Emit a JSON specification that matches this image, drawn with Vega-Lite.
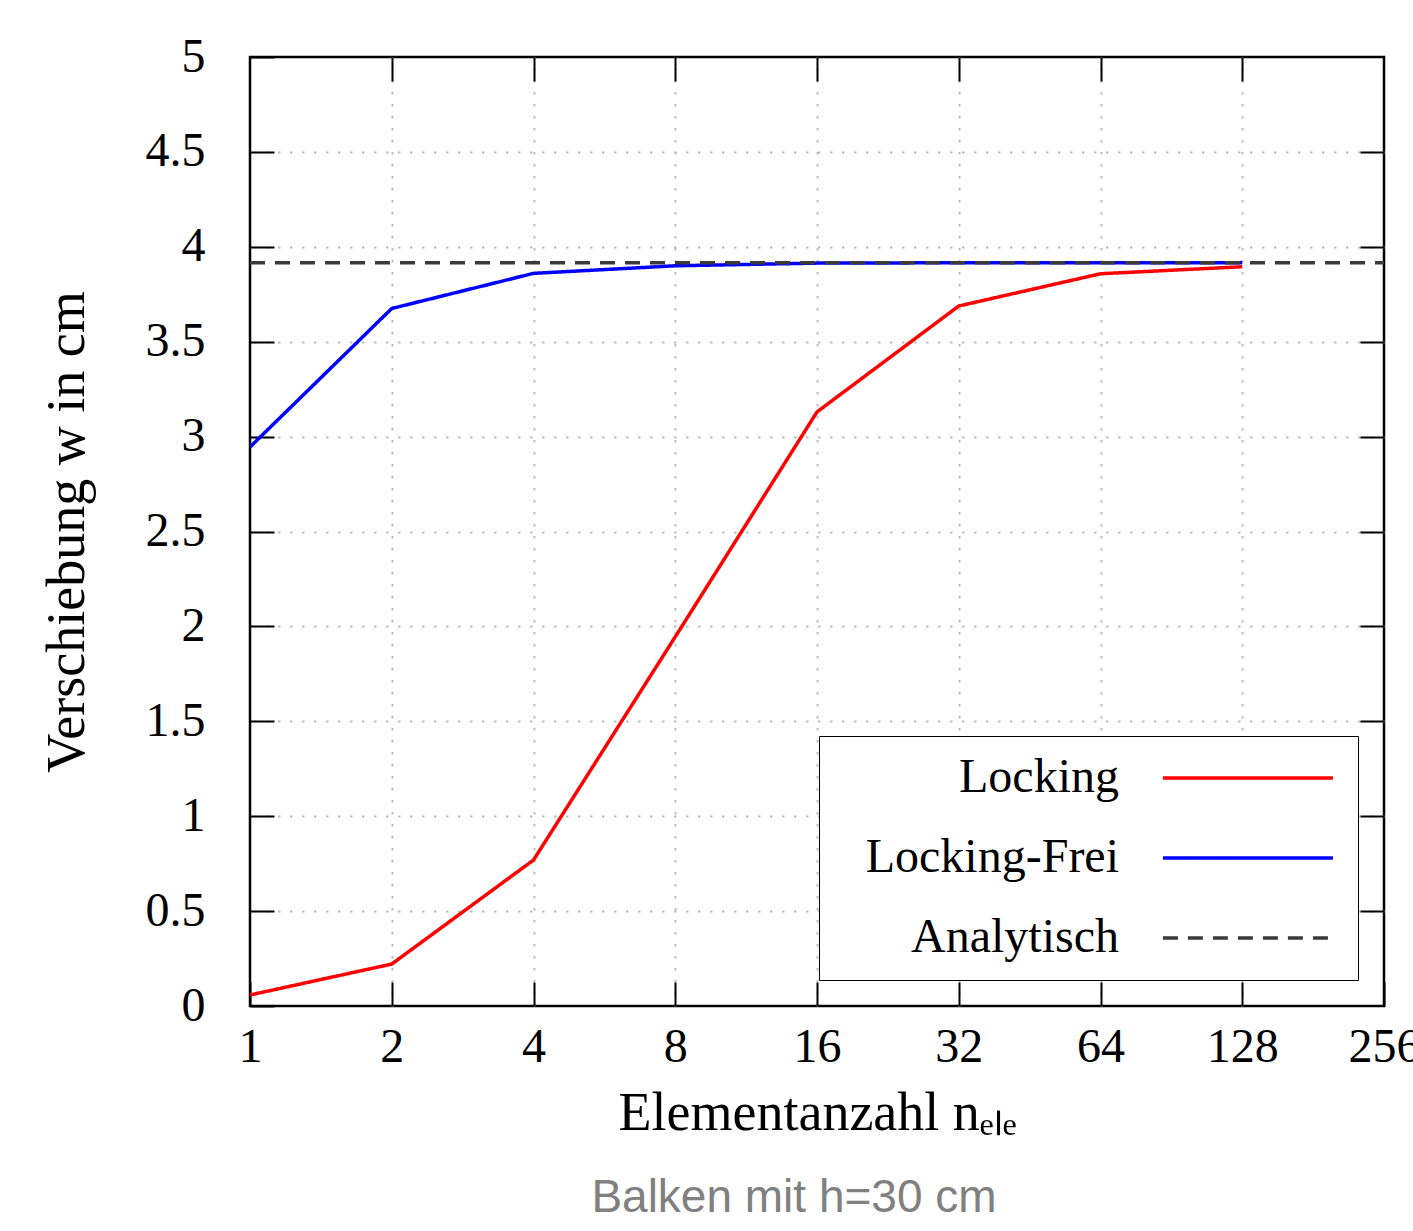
{
  "$schema": "https://vega.github.io/schema/vega-lite/v6.json",
  "width": 1134,
  "height": 949,
  "autosize": {"type": "none"},
  "padding": {"left": 250, "top": 57, "right": 29, "bottom": 225},
  "background": "white",
  "title": {
    "text": "Balken mit h=30 cm",
    "orient": "bottom",
    "anchor": "middle",
    "dx": -23,
    "offset": 36,
    "font": "Liberation Sans",
    "fontSize": 46,
    "fontWeight": "normal",
    "color": "#808080"
  },
  "config": {
    "view": {"stroke": "#000000", "strokeWidth": 2.5},
    "font": "Liberation Serif",
    "axis": {
      "domain": false,
      "tickColor": "#000000",
      "tickWidth": 2,
      "tickSize": -24,
      "labelFont": "Liberation Serif",
      "labelFontSize": 48,
      "labelColor": "#000000",
      "titleFont": "Liberation Serif",
      "titleFontSize": 54,
      "titleFontWeight": "normal",
      "titleColor": "#000000",
      "gridColor": "#bdbdbd",
      "gridWidth": 2,
      "gridDash": [2.5, 9.5],
      "gridOpacity": 1
    },
    "legend": {
      "title": null,
      "orient": "bottom-right",
      "offset": 26,
      "padding": 18,
      "strokeColor": "#000000",
      "fillColor": "#ffffff",
      "cornerRadius": 0,
      "labelFont": "Liberation Serif",
      "labelFontSize": 48,
      "labelColor": "#000000",
      "labelAlign": "right",
      "labelOffset": 234,
      "labelLimit": 400,
      "symbolType": "M17.76,0H27.76",
      "symbolSize": 1156,
      "symbolStrokeWidth": 3.5,
      "rowPadding": 32
    }
  },
  "data": {
    "values": [
      {"n": 1, "w": 0.058, "series": "Locking"},
      {"n": 2, "w": 0.221, "series": "Locking"},
      {"n": 4, "w": 0.769, "series": "Locking"},
      {"n": 8, "w": 1.945, "series": "Locking"},
      {"n": 16, "w": 3.13, "series": "Locking"},
      {"n": 32, "w": 3.688, "series": "Locking"},
      {"n": 64, "w": 3.858, "series": "Locking"},
      {"n": 128, "w": 3.895, "series": "Locking"},
      {"n": 1, "w": 2.945, "series": "Locking-Frei"},
      {"n": 2, "w": 3.675, "series": "Locking-Frei"},
      {"n": 4, "w": 3.86, "series": "Locking-Frei"},
      {"n": 8, "w": 3.9, "series": "Locking-Frei"},
      {"n": 16, "w": 3.914, "series": "Locking-Frei"},
      {"n": 32, "w": 3.916, "series": "Locking-Frei"},
      {"n": 64, "w": 3.916, "series": "Locking-Frei"},
      {"n": 128, "w": 3.916, "series": "Locking-Frei"},
      {"n": 1, "w": 3.916, "series": "Analytisch"},
      {"n": 256, "w": 3.916, "series": "Analytisch"}
    ]
  },
  "resolve": {"axis": {"x": "independent", "y": "independent"}},
  "layer": [
    {
      "mark": {"type": "point", "opacity": 0},
      "encoding": {
        "x": {
          "field": "n", "type": "quantitative",
          "scale": {"type": "log", "base": 2, "domain": [1, 256]},
          "axis": {"orient": "top", "values": [2, 4, 8, 16, 32, 64, 128], "labels": false, "grid": true, "title": null}
        },
        "y": {
          "field": "w", "type": "quantitative",
          "scale": {"domain": [0, 5]},
          "axis": {"orient": "right", "values": [0.5, 1, 1.5, 2, 2.5, 3, 3.5, 4, 4.5], "labels": false, "grid": true, "title": null}
        }
      }
    },
    {
      "mark": {"type": "line", "strokeWidth": 3.5, "clip": true},
      "encoding": {
        "x": {
          "field": "n", "type": "quantitative",
          "scale": {"type": "log", "base": 2, "domain": [1, 256]},
          "axis": {"orient": "bottom", "values": [1, 2, 4, 8, 16, 32, 64, 128, 256], "format": "d", "grid": false, "labelPadding": 41, "labelFlush": false, "labelOverlap": false, "title": "Elementanzahl nₑₗₑ", "titlePadding": 15}
        },
        "y": {
          "field": "w", "type": "quantitative",
          "scale": {"domain": [0, 5]},
          "axis": {"orient": "left", "values": [0, 0.5, 1, 1.5, 2, 2.5, 3, 3.5, 4, 4.5, 5], "format": "~g", "grid": false, "labelPadding": 69, "labelOverlap": false, "title": "Verschiebung w in cm", "titlePadding": 51}
        },
        "color": {
          "field": "series", "type": "nominal",
          "scale": {"domain": ["Locking", "Locking-Frei", "Analytisch"], "range": ["#ff0000", "#0000ff", "#3a3a3a"]}
        },
        "strokeDash": {
          "field": "series", "type": "nominal",
          "scale": {"domain": ["Locking", "Locking-Frei", "Analytisch"], "range": [[1, 0], [1, 0], [15, 10]]}
        }
      }
    }
  ]
}
